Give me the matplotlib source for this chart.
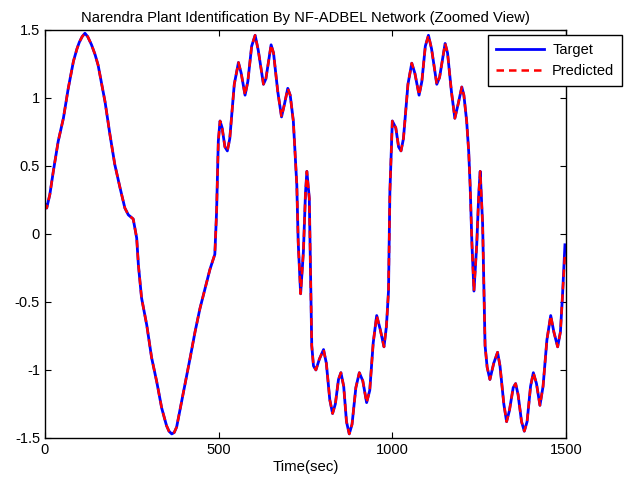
import matplotlib
matplotlib.use('Agg')
import matplotlib.pyplot as plt

matplotlib.rcParams['font.family'] = ['Liberation Sans', 'DejaVu Sans']

# time samples (sec)
time_sec = [0, 5, 14, 24, 38, 53, 67, 82, 92, 99, 107, 115, 123, 134, 144, 153,
            173, 187, 201, 216, 230, 240, 254, 264, 269, 278, 293, 307, 322, 336,
            350, 357, 365, 372, 379, 389, 403, 418, 432, 446, 461, 475, 489, 494,
            499, 504, 510, 518, 525, 532, 545, 557, 565, 576, 584, 595, 605, 614,
            629, 636, 651, 658, 670, 681, 690, 699, 706, 715, 720, 725, 729, 736,
            744, 750, 754, 761, 768, 773, 780, 790, 802, 810, 820, 828, 836, 845,
            852, 860, 868, 876, 884, 895, 905, 915, 926, 935, 945, 955, 965, 976,
            983, 989, 993, 1000, 1010, 1018, 1025, 1032, 1045, 1056, 1065, 1077,
            1085, 1095, 1104, 1113, 1128, 1136, 1152, 1159, 1170, 1180, 1190, 1200,
            1206, 1214, 1220, 1224, 1229, 1235, 1243, 1249, 1253, 1260, 1267, 1273,
            1281, 1292, 1303, 1310, 1321, 1329, 1337, 1348, 1355, 1362, 1372, 1380,
            1388, 1398, 1406, 1415, 1425, 1434, 1445, 1456, 1465, 1476, 1484, 1490,
            1497]

target = [0.22, 0.19, 0.29, 0.46, 0.68, 0.85, 1.07, 1.27, 1.36, 1.41, 1.45, 1.475,
          1.45, 1.39, 1.32, 1.24, 0.97, 0.73, 0.51, 0.34, 0.19, 0.14, 0.11, -0.03,
          -0.23, -0.47, -0.67, -0.91, -1.09, -1.28, -1.41, -1.45, -1.47, -1.46,
          -1.42, -1.29, -1.11, -0.91, -0.72, -0.55, -0.40, -0.26, -0.15, 0.16,
          0.68, 0.83, 0.78, 0.64, 0.61, 0.70, 1.10, 1.26, 1.18, 1.02, 1.12, 1.38,
          1.46, 1.35, 1.10, 1.14, 1.39, 1.33, 1.05, 0.86, 0.96, 1.07, 1.02, 0.83,
          0.60, 0.36, -0.06, -0.44, -0.13, 0.30, 0.46, 0.26, -0.82, -0.97, -1.00,
          -0.92, -0.85, -0.95, -1.22, -1.32, -1.25, -1.07, -1.02, -1.12, -1.38,
          -1.47, -1.40, -1.13, -1.02, -1.08, -1.24, -1.15, -0.80, -0.60, -0.70,
          -0.83, -0.68, -0.42, 0.31, 0.83, 0.78, 0.64, 0.61, 0.70, 1.10, 1.255,
          1.18, 1.02, 1.12, 1.38, 1.46, 1.36, 1.10, 1.15, 1.40, 1.33, 1.05, 0.85,
          0.96, 1.08, 1.02, 0.83, 0.60, 0.36, -0.06, -0.42, -0.08, 0.30, 0.46,
          0.07, -0.82, -0.98, -1.07, -0.95, -0.87, -0.97, -1.25, -1.38, -1.30,
          -1.13, -1.10, -1.18, -1.38, -1.45, -1.38, -1.12, -1.02, -1.10, -1.26,
          -1.12, -0.78, -0.60, -0.72, -0.83, -0.72, -0.45, -0.08]

# network output: same as target except the last sample
predicted = target[:-1] + [-0.15]

fig = plt.figure(figsize=(6.3, 4.83), dpi=100)
ax = fig.add_axes([0.0714, 0.0932, 0.827, 0.845])

ax.plot(time_sec, target, color='#0000ff', linewidth=2.0, label='Target')
ax.plot(time_sec, predicted, color='#ff0000', linewidth=1.8, linestyle='--',
        dashes=(3, 2), label='Predicted')

ax.set_xlim(0, 1500)
ax.set_ylim(-1.5, 1.5)
ax.set_xticks([0, 500, 1000, 1500])
ax.set_yticks([-1.5, -1, -0.5, 0, 0.5, 1, 1.5])
ax.set_yticklabels(['-1.5', '-1', '-0.5', '0', '0.5', '1', '1.5'])
ax.tick_params(direction='in', top=True, right=True, length=4, labelsize=10.5)
for s in ax.spines.values():
    s.set_linewidth(1.0)

ax.set_title('Narendra Plant Identification By NF-ADBEL Network (Zoomed View)',
             fontsize=10.6, pad=6)
ax.set_xlabel('Time(sec)', fontsize=10.8, labelpad=2)

leg = ax.legend(loc='upper left', bbox_to_anchor=(0.7746, 0.9275),
                bbox_transform=fig.transFigure, fontsize=10.5, frameon=True,
                fancybox=False, edgecolor='black', framealpha=1,
                borderaxespad=0, handlelength=3.3, handletextpad=0.55,
                borderpad=0.55, labelspacing=0.5)
leg.get_frame().set_linewidth(1.0)

fig.savefig('out.png', dpi=100)
